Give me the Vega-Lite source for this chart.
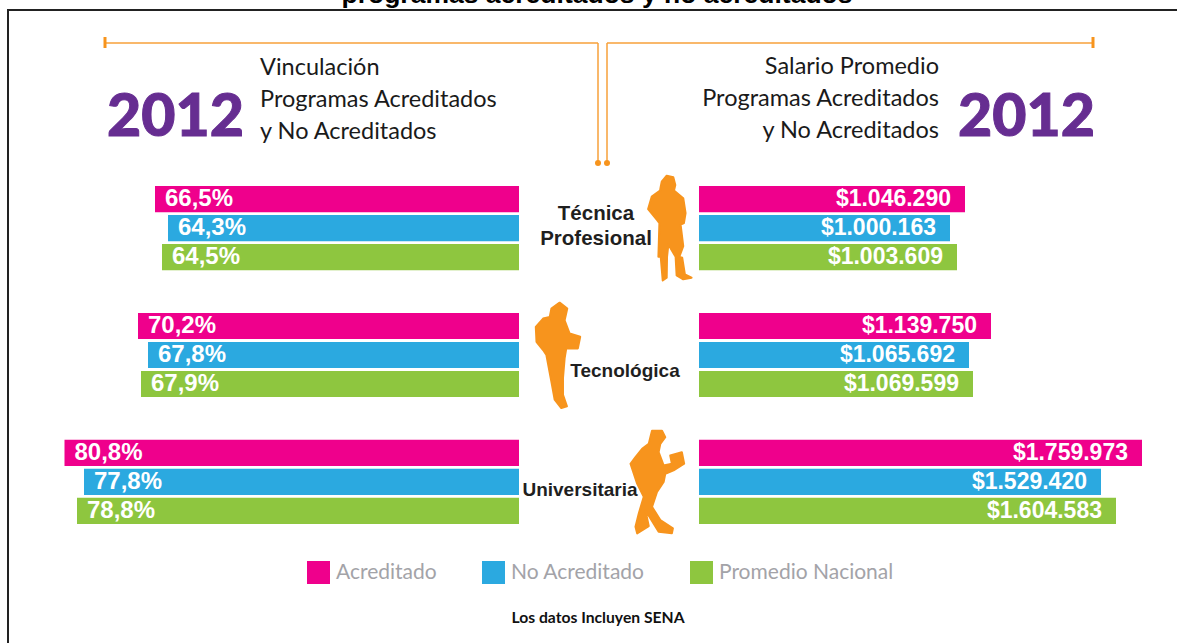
{
"$schema":"https://vega.github.io/schema/vega-lite/v6.json",
"width":1177,"height":643,"padding":0,"autosize":{"type":"none"},"background":"white",
"config":{"view":{"stroke":null},"axis":{"disable":true}},
"datasets":{"datos":[
{"nivel":"Técnica Profesional","serie":"Acreditado","vinculacion":66.5,"vinculacion_txt":"66,5%","salario":1046290,"salario_txt":"$1.046.290"},
{"nivel":"Técnica Profesional","serie":"No Acreditado","vinculacion":64.3,"vinculacion_txt":"64,3%","salario":1000163,"salario_txt":"$1.000.163"},
{"nivel":"Técnica Profesional","serie":"Promedio Nacional","vinculacion":64.5,"vinculacion_txt":"64,5%","salario":1003609,"salario_txt":"$1.003.609"},
{"nivel":"Tecnológica","serie":"Acreditado","vinculacion":70.2,"vinculacion_txt":"70,2%","salario":1139750,"salario_txt":"$1.139.750"},
{"nivel":"Tecnológica","serie":"No Acreditado","vinculacion":67.8,"vinculacion_txt":"67,8%","salario":1065692,"salario_txt":"$1.065.692"},
{"nivel":"Tecnológica","serie":"Promedio Nacional","vinculacion":67.9,"vinculacion_txt":"67,9%","salario":1069599,"salario_txt":"$1.069.599"},
{"nivel":"Universitaria","serie":"Acreditado","vinculacion":80.8,"vinculacion_txt":"80,8%","salario":1759973,"salario_txt":"$1.759.973"},
{"nivel":"Universitaria","serie":"No Acreditado","vinculacion":77.8,"vinculacion_txt":"77,8%","salario":1529420,"salario_txt":"$1.529.420"},
{"nivel":"Universitaria","serie":"Promedio Nacional","vinculacion":78.8,"vinculacion_txt":"78,8%","salario":1604583,"salario_txt":"$1.604.583"}
]},
"resolve":{"scale":{"x":"independent","y":"independent"}},
"layer":[
{"data":{"name":"datos"},
 "encoding":{
  "y":{"field":"nivel","type":"nominal","title":null,"scale":{"domain":["Técnica Profesional","Tecnológica","Universitaria"],"range":[186,524],"paddingInner":0.336,"paddingOuter":0}},
  "yOffset":{"field":"serie","type":"nominal","scale":{"domain":["Acreditado","No Acreditado","Promedio Nacional"],"paddingInner":0.1,"paddingOuter":0}},
  "x":{"field":"vinculacion","type":"quantitative","title":null,"scale":{"domain":[8.3,64.3,64.5,66.5,67.8,67.9,70.2,77.8,78.8,80.8],"range":[519,168,162,155,148,141,138,84,77,64.5],"clamp":true,"zero":false,"nice":false}}
 },
 "layer":[
  {"mark":{"type":"bar"},"encoding":{"color":{"field":"serie","type":"nominal","scale":{"domain":["Acreditado","No Acreditado","Promedio Nacional"],"range":["#EF008C","#2BA9E0","#8EC63F"]},
    "legend":{"title":null,"orient":"none","legendX":307,"legendY":561,"direction":"horizontal","columns":3,"symbolType":"square","symbolSize":529,"symbolStrokeWidth":0,"symbolOpacity":1,"labelFont":"Lato","labelFontSize":21,"labelColor":"#A3A3A8","labelOffset":6,"columnPadding":45,"labelLimit":300}}}},
  {"mark":{"type":"text","align":"left","baseline":"middle","dx":10,"font":"Liberation Sans","fontWeight":"bold","fontSize":24,"color":"white"},"encoding":{"text":{"field":"vinculacion_txt"}}}
 ]},
{"data":{"name":"datos"},
 "encoding":{
  "y":{"field":"nivel","type":"nominal","title":null,"scale":{"domain":["Técnica Profesional","Tecnológica","Universitaria"],"range":[186,524],"paddingInner":0.336,"paddingOuter":0}},
  "yOffset":{"field":"serie","type":"nominal","scale":{"domain":["Acreditado","No Acreditado","Promedio Nacional"],"paddingInner":0.1,"paddingOuter":0}},
  "x":{"field":"salario","type":"quantitative","title":null,"scale":{"domain":[0,1000163,1003609,1046290,1065692,1069599,1139750,1529420,1604583,1759973],"range":[699,950,957,965,969,973,991,1101,1116,1142],"nice":false}}
 },
 "layer":[
  {"mark":{"type":"bar"},"encoding":{"color":{"field":"serie","type":"nominal"}}},
  {"mark":{"type":"text","align":"right","baseline":"middle","dx":-14,"font":"Liberation Sans","fontWeight":"bold","fontSize":23,"color":"white"},"encoding":{"text":{"field":"salario_txt"}}}
 ]},
{"layer":[
  {"data":{"values":[{}]},"mark":{"type":"rect","fill":"transparent","stroke":"#222222","strokeWidth":2},
   "encoding":{"x":{"datum":8,"type":"quantitative","scale":{"domain":[0,1177],"range":[0,1177],"zero":false,"nice":false}},"x2":{"datum":1190},
    "y":{"datum":10,"type":"quantitative","scale":{"domain":[0,643],"range":[0,643],"zero":false,"nice":false}},"y2":{"datum":670}}},
  {"data":{"values":[{"texto":"programas acreditados y no acreditados"}]},"mark":{"type":"text","align":"center","baseline":"alphabetic","font":"Liberation Sans","fontWeight":"bold","fontSize":26.5,"color":"#000000"},
   "encoding":{"x":{"datum":597,"type":"quantitative"},"y":{"datum":3,"type":"quantitative"},"text":{"field":"texto"}}},
  {"data":{"values":[{}]},"mark":{"type":"rule","color":"#F7A13A","strokeWidth":1.5},"encoding":{"x":{"datum":104,"type":"quantitative"},"x2":{"datum":598},"y":{"datum":43,"type":"quantitative"},"y2":{"datum":43}}},
  {"data":{"values":[{}]},"mark":{"type":"rule","color":"#F7A13A","strokeWidth":1.5},"encoding":{"x":{"datum":598,"type":"quantitative"},"x2":{"datum":598},"y":{"datum":43,"type":"quantitative"},"y2":{"datum":163}}},
  {"data":{"values":[{}]},"mark":{"type":"rule","color":"#F7A13A","strokeWidth":1.5},"encoding":{"x":{"datum":607,"type":"quantitative"},"x2":{"datum":1093},"y":{"datum":43,"type":"quantitative"},"y2":{"datum":43}}},
  {"data":{"values":[{}]},"mark":{"type":"rule","color":"#F7A13A","strokeWidth":1.5},"encoding":{"x":{"datum":607,"type":"quantitative"},"x2":{"datum":607},"y":{"datum":43,"type":"quantitative"},"y2":{"datum":163}}},
  {"data":{"values":[{}]},"mark":{"type":"rule","color":"#F7941D","strokeWidth":3},"encoding":{"x":{"datum":105,"type":"quantitative"},"x2":{"datum":105},"y":{"datum":37,"type":"quantitative"},"y2":{"datum":48}}},
  {"data":{"values":[{}]},"mark":{"type":"rule","color":"#F7941D","strokeWidth":3},"encoding":{"x":{"datum":1093,"type":"quantitative"},"x2":{"datum":1093},"y":{"datum":37,"type":"quantitative"},"y2":{"datum":48}}},
  {"data":{"values":[{}]},"mark":{"type":"point","filled":true,"shape":"circle","size":36,"color":"#F7941D","opacity":1},"encoding":{"x":{"datum":598,"type":"quantitative"},"y":{"datum":163,"type":"quantitative"}}},
  {"data":{"values":[{}]},"mark":{"type":"point","filled":true,"shape":"circle","size":36,"color":"#F7941D","opacity":1},"encoding":{"x":{"datum":607,"type":"quantitative"},"y":{"datum":163,"type":"quantitative"}}},
  {"data":{"values":[{"texto":"2012"}]},"mark":{"type":"text","align":"left","baseline":"alphabetic","font":"Lato","fontWeight":900,"fontSize":59,"color":"#662D91","stroke":"#662D91","strokeWidth":1},"encoding":{"x":{"datum":107,"type":"quantitative"},"y":{"datum":136,"type":"quantitative"},"text":{"field":"texto"}}},
  {"data":{"values":[{"texto":"2012"}]},"mark":{"type":"text","align":"right","baseline":"alphabetic","font":"Lato","fontWeight":900,"fontSize":59,"color":"#662D91","stroke":"#662D91","strokeWidth":1},"encoding":{"x":{"datum":1095,"type":"quantitative"},"y":{"datum":136,"type":"quantitative"},"text":{"field":"texto"}}},
  {"data":{"values":[{"texto":["Vinculación","Programas Acreditados","y No Acreditados"]}]},"mark":{"type":"text","align":"left","baseline":"alphabetic","font":"Lato","fontSize":23.5,"lineHeight":32,"color":"#1A1A1A"},"encoding":{"x":{"datum":260,"type":"quantitative"},"y":{"datum":75,"type":"quantitative"},"text":{"field":"texto"}}},
  {"data":{"values":[{"texto":["Salario Promedio","Programas Acreditados","y No Acreditados"]}]},"mark":{"type":"text","align":"right","baseline":"alphabetic","font":"Lato","fontSize":23.5,"lineHeight":32,"color":"#1A1A1A"},"encoding":{"x":{"datum":939,"type":"quantitative"},"y":{"datum":74,"type":"quantitative"},"text":{"field":"texto"}}},
  {"data":{"values":[{"texto":["Técnica","Profesional"]}]},"mark":{"type":"text","align":"center","baseline":"alphabetic","font":"Liberation Sans","fontWeight":"bold","fontSize":20.5,"lineHeight":25,"color":"#1F1F1F"},"encoding":{"x":{"datum":596,"type":"quantitative"},"y":{"datum":220,"type":"quantitative"},"text":{"field":"texto"}}},
  {"data":{"values":[{"texto":"Tecnológica"}]},"mark":{"type":"text","align":"center","baseline":"alphabetic","font":"Liberation Sans","fontWeight":"bold","fontSize":19,"color":"#1F1F1F"},"encoding":{"x":{"datum":625,"type":"quantitative"},"y":{"datum":377,"type":"quantitative"},"text":{"field":"texto"}}},
  {"data":{"values":[{"texto":"Universitaria"}]},"mark":{"type":"text","align":"center","baseline":"alphabetic","font":"Liberation Sans","fontWeight":"bold","fontSize":19,"color":"#1F1F1F"},"encoding":{"x":{"datum":580,"type":"quantitative"},"y":{"datum":496,"type":"quantitative"},"text":{"field":"texto"}}},
  {"data":{"values":[{"texto":"Los datos Incluyen SENA"}]},"mark":{"type":"text","align":"center","baseline":"alphabetic","font":"Lato","fontWeight":"bold","fontSize":15.7,"color":"#111111"},"encoding":{"x":{"datum":598,"type":"quantitative"},"y":{"datum":623,"type":"quantitative"},"text":{"field":"texto"}}},
  {"data":{"values":[{}]},"mark":{"type":"point","filled":true,"opacity":1,"size":11236,"color":"#F7941D","stroke":"#F7941D","strokeWidth":2,"strokeJoin":"round","shape":"M-.156 -.875L-.0625 -.9875L.0625 -.956L.1 -.8125L.075 -.706L.25 -.5625L.294 -.281L.2625 -.094L.2 -.0625L.25 .344L.175 .544L.231 .5625L.281 .875L.406 .9375L.25 .969L.125 .894L.106 .544L-.031 .3125L-.056 .544L-.0625 .9375L-.1375 .9875L-.175 .544L-.219 .544L-.2 -.094L-.25 -.156L-.4125 -.356L-.344 -.594L-.1875 -.706L-.175 -.781Z"},"encoding":{"x":{"datum":670,"type":"quantitative"},"y":{"datum":228,"type":"quantitative"}}},
  {"data":{"values":[{}]},"mark":{"type":"point","filled":true,"opacity":1,"size":11236,"color":"#F7941D","stroke":"#F7941D","strokeWidth":2,"strokeJoin":"round","shape":"M.031 -.9875L.175 -.875L.125 -.656L.219 -.406L.419 -.344L.375 -.125L.156 -.125L.125 .0625L.094 .4375L.094 .75L.169 .969L.0625 1L-.0625 .844L-.125 .5L-.219 0L-.281 -.094L-.406 -.25L-.419 -.531L-.281 -.6875L-.156 -.719L-.125 -.875Z"},"encoding":{"x":{"datum":558,"type":"quantitative"},"y":{"datum":355,"type":"quantitative"}}},
  {"data":{"values":[{}]},"mark":{"type":"point","filled":true,"opacity":1,"size":11236,"color":"#F7941D","stroke":"#F7941D","strokeWidth":2,"strokeJoin":"round","shape":"M-.094 -.95L.094 -.95L.156 -.825L.0625 -.7L.031 -.544L.125 -.294L.281 -.325L.25 -.481L.469 -.544L.5125 -.325L.3125 -.2L.156 -.1375L.125 .019L0 .206L-.094 .4875L.0625 .7375L.3 .894L.281 .9875L.031 .956L-.219 .55L-.156 .85L-.375 .9875L-.406 .8625L-.344 .6125L-.25 .3L-.375 .05L-.5 -.325L-.406 -.45L-.281 -.606L-.156 -.7L-.125 -.825Z"},"encoding":{"x":{"datum":657,"type":"quantitative"},"y":{"datum":481,"type":"quantitative"}}}
 ]}
]
}
